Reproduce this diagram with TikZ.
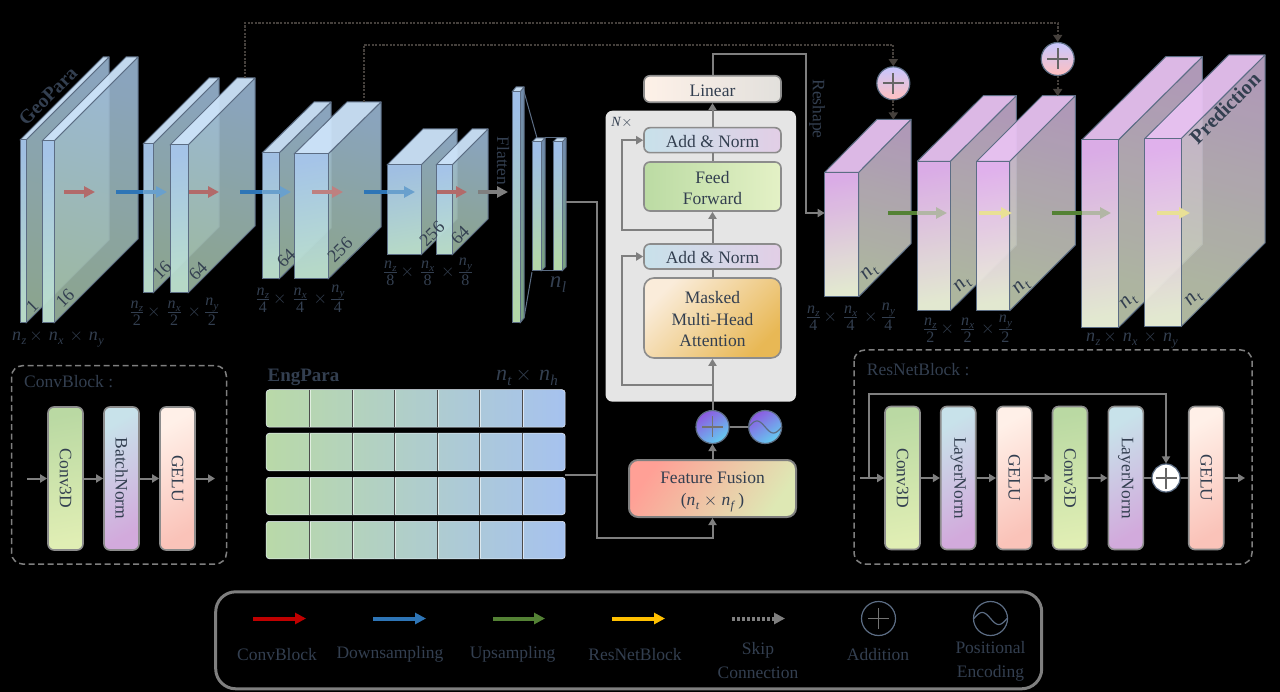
\documentclass[tikz,border=0pt]{standalone}
\usepackage{graphicx}
\usepackage{fontspec}
\setmainfont{Liberation Serif}
\usetikzlibrary{arrows.meta,calc}
\definecolor{textc}{HTML}{333F50}
\definecolor{connc}{HTML}{7F7F7F}
\definecolor{boxg}{HTML}{8C8C8C}
\definecolor{edgec}{HTML}{5C6D84}
\definecolor{skipc}{HTML}{45403C}
% cube colours
\definecolor{blkFT}{RGB}{166,198,234}\definecolor{blkFB}{RGB}{188,224,206}
\definecolor{blkST}{RGB}{158,187,216}\definecolor{blkSB}{RGB}{159,187,165}
\definecolor{blkTP}{RGB}{205,228,250}
\definecolor{fltFT}{RGB}{165,198,240}\definecolor{fltFB}{RGB}{185,222,175}
\definecolor{fltST}{RGB}{130,160,195}\definecolor{fltSB}{RGB}{140,185,150}
\definecolor{fltTP}{RGB}{205,228,250}
\definecolor{purFT}{RGB}{226,178,238}\definecolor{purFB}{RGB}{234,240,215}
\definecolor{purST}{RGB}{200,175,209}\definecolor{purSB}{RGB}{197,208,181}
\definecolor{purTP}{RGB}{232,194,242}
% box gradients
\definecolor{linL}{RGB}{254,241,232}\definecolor{linR}{RGB}{226,224,220}
\definecolor{anL}{RGB}{200,225,234}\definecolor{anR}{RGB}{226,206,230}
\definecolor{ffL}{RGB}{187,219,163}\definecolor{ffR}{RGB}{228,241,198}
\definecolor{maT}{RGB}{250,236,218}\definecolor{maB}{RGB}{232,184,85}
\definecolor{fuT}{RGB}{255,160,150}\definecolor{fuB}{RGB}{222,232,180}
\definecolor{poT}{RGB}{140,90,225}\definecolor{poB}{RGB}{100,205,240}
\definecolor{enL}{RGB}{185,217,168}\definecolor{enR}{RGB}{166,194,239}
\definecolor{cvT}{RGB}{186,217,163}\definecolor{cvB}{RGB}{224,238,180}
\definecolor{bnT}{RGB}{200,226,234}\definecolor{bnB}{RGB}{210,170,220}
\definecolor{geT}{RGB}{255,240,232}\definecolor{geB}{RGB}{250,195,185}
\tikzset{
  edgeline/.style={draw=edgec,line width=1pt,line join=round},
  box/.style={rounded corners=6pt,draw=boxg,line width=1.6pt,inner sep=0pt,text=textc,align=center,font=\fontsize{17.5}{21.5}\selectfont},
  slim/.style={box,minimum width=35pt,minimum height=143pt},
  cvbox/.style={slim,top color=cvT,bottom color=cvB,shading angle=10},
  bnbox/.style={slim,top color=bnT,bottom color=bnB,shading angle=30},
  gebox/.style={slim,top color=geT,bottom color=geB,shading angle=30},
  anbox/.style={box,minimum width=137pt,minimum height=25pt,left color=anL,right color=anR},
  conn/.style={draw=connc,line width=2pt},
  tip/.style={-{Triangle[length=7pt,width=8pt]}},
  skipline/.style={draw=skipc,line width=2pt,dash pattern=on 2.2pt off 1.4pt},
  skiptip/.style={-{Triangle[length=7pt,width=9pt]}},
  fatarrow/.style={line width=4pt,-{Triangle[length=11pt,width=11pt]}},
  fatbar/.style={line width=4pt},
  dashbox/.style={draw=connc,line width=1.5pt,dash pattern=on 6pt off 3.5pt,rounded corners=11pt},
  lab/.style={text=textc,inner sep=0pt,align=center,font=\fontsize{17.5}{24}\selectfont},
  sidelab/.style={text=textc,inner sep=0pt,rotate=45,font=\fontsize{18}{20}\selectfont},
  ntlab/.style={sidelab,font=\fontsize{21}{22}\selectfont},
  dimlab/.style={text=textc,inner sep=0pt,font=\fontsize{16}{18}\selectfont},
  addcirc/.style={circle,draw=edgec,line width=1.2pt,minimum size=#1,inner sep=0pt},
}
% italic n with a subscript, in the text face
\newcommand{\nn}[1]{\textit{n}\kern.02em\raisebox{-.22em}{\fontsize{.68em}{.7em}\selectfont\textit{#1}}}
\newcommand{\lowr}{\rule{0pt}{.85em}}
% x, ytop, w, h, dx, dy, colour prefix
\newcommand{\cuboid}[7]{%
  \shadedraw[edgeline,fill opacity=.88,top color=#7ST,bottom color=#7SB,shading angle=-15]
    (#1+#3,#2) -- (#1+#3+#5,#2-#6) -- (#1+#3+#5,#2+#4-#6) -- (#1+#3,#2+#4) -- cycle;
  \filldraw[edgeline,fill=#7TP,fill opacity=.95]
    (#1,#2) -- (#1+#5,#2-#6) -- (#1+#3+#5,#2-#6) -- (#1+#3,#2) -- cycle;
  \shadedraw[edgeline,fill opacity=.97,top color=#7FT,bottom color=#7FB,shading angle=10]
    (#1,#2) rectangle (#1+#3,#2+#4);
}
% x0, x1 (colour change), x2, y, solid colour, light colour
\newcommand{\twotone}[6]{%
  \draw[fatbar,draw=#5] (#1,#4) -- (#2,#4);
  \draw[fatarrow,draw=#6,fill=#6] (#2,#4) -- (#3,#4);
}
\newcommand{\plusin}[2]{%
  \draw[draw=#2,line width=1.8pt] (#1.center) ++(-10.5,0) -- ++(21,0);
  \draw[draw=#2,line width=1.8pt] (#1.center) ++(0,-10.5) -- ++(0,21);
}
\newcommand{\sinein}[1]{%
  \draw[draw=edgec,line width=1.2pt,shift={(#1.center)}] plot[domain=-1:1,samples=40,smooth] ({\x*16.5},{6*sin(\x*180)});
}
\newcommand{\ofrac}[2]{\frac{\mbox{\raisebox{1.5pt}{\nn{#1}}}}{\mbox{\rule{0pt}{.8em}#2}}}
\newcommand{\fracdims}[1]{$\ofrac{z}{#1}\,{\times}\,\,\ofrac{x}{#1}\,\,{\times}\,\ofrac{y}{#1}$}
\newcommand{\plaindims}{\nn{z}\,$\times$\,\,\nn{x}\,\,$\times$\,\,\nn{y}}
\begin{document}
\begin{tikzpicture}[x=1pt,y=-1pt]
\fill[black] (0,0) rectangle (1280,692);
\useasboundingbox (0,0) rectangle (1280,692);

% ---------- encoder ----------
\cuboid{20}{140}{6}{183}{83}{83}{blk}
\cuboid{42}{141}{12}{182}{84}{84}{blk}
\cuboid{143}{144}{10}{149}{66}{66}{blk}
\cuboid{170}{145}{18}{148}{67}{67}{blk}
\cuboid{262}{153}{17}{126}{52}{51}{blk}
\cuboid{294}{154}{34}{125}{53}{52}{blk}
\cuboid{387}{165}{34}{90}{36}{36}{blk}
\cuboid{436}{165}{16}{90}{36}{36}{blk}

\node[sidelab,font=\bfseries\fontsize{19.5}{22}\selectfont] (geo) at (48,96) {GeoPara};
\node[sidelab] (s1) at (32,306) {1};
\node[sidelab] (s2) at (65,298) {16};
\node[sidelab] (s3) at (162,270) {16};
\node[sidelab] (s4) at (198,271) {64};
\node[sidelab] (s5) at (286,258) {64};
\node[sidelab] (s6) at (340,250) {256};
\node[sidelab] (s7) at (432,234) {256};
\node[sidelab] (s8) at (460,235) {64};

\node[dimlab,font=\fontsize{18}{20}\selectfont] (d1) at (58,339) {\plaindims};
\node[dimlab] (d2) at (174.5,312) {\fracdims{2}};
\node[dimlab] (d3) at (300.5,299) {\fracdims{4}};
\node[dimlab] (d4) at (428,272) {\fracdims{8}};

% flatten
\draw[edgeline] (523,88) -- (537,138);
\draw[edgeline] (524,318) -- (532,272);
\draw[edgeline] (545,138) -- (566,138);
\draw[edgeline] (537,271) -- (556,271);
\cuboid{512}{92}{8}{231}{4}{5}{flt}
\cuboid{532}{142}{9}{129}{4}{4}{flt}
\cuboid{553}{142}{9}{129}{4}{4}{flt}
\node[lab,rotate=-90] (flat) at (503,161) {Flatten};
\node[text=textc,inner sep=0pt,font=\fontsize{23}{24}\selectfont] (nl) at (558,285) {\nn{l}};

% ---------- decoder ----------
\cuboid{824.7}{172.3}{34}{124.4}{52.3}{53}{pur}
\cuboid{917.3}{161.3}{33}{149.4}{66}{65.6}{pur}
\cuboid{976.7}{161.3}{33}{149.4}{65.6}{65.6}{pur}
\cuboid{1081.7}{140}{36.6}{187.7}{84}{83.3}{pur}
\cuboid{1144.7}{138.7}{36.3}{188}{84}{83.7}{pur}
\node[sidelab,font=\bfseries\fontsize{20.5}{22}\selectfont] (pred) at (1225,108) {Prediction};
\node[ntlab] (t1) at (870,273) {\nn{t}};
\node[ntlab] (t2) at (963,285) {\nn{t}};
\node[ntlab] (t3) at (1022,287) {\nn{t}};
\node[ntlab] (t4) at (1129,302) {\nn{t}};
\node[ntlab] (t5) at (1194,299) {\nn{t}};
\node[dimlab] (d5) at (851,317) {\fracdims{4}};
\node[dimlab] (d6) at (968,329) {\fracdims{2}};
\node[dimlab,font=\fontsize{18}{20}\selectfont] (d7) at (1132,340) {\plaindims};
\node[lab,rotate=-90] (resh) at (817,109) {Reshape};

% ---------- block-level arrows ----------
\definecolor{redm}{RGB}{178,106,106}
\definecolor{blus}{HTML}{2E75B6}\definecolor{blul}{RGB}{105,160,205}
\definecolor{grns}{HTML}{548235}\definecolor{grnl}{RGB}{178,182,165}
\definecolor{yelm}{RGB}{233,224,150}
\draw[fatarrow,draw=redm,fill=redm] (64,192) -- (95,192);
\twotone{116}{143}{167}{192}{blus}{blul}
\draw[fatarrow,draw=redm,fill=redm] (189,192) -- (219,192);
\twotone{240}{262}{291}{192}{blus}{blul}
\draw[fatarrow,draw=redm!85!white,fill=redm!85!white] (312,192) -- (343,192);
\twotone{364}{387}{415}{192}{blus}{blul}
\draw[fatarrow,draw=redm,fill=redm] (437,192) -- (467,192);
\draw[fatarrow,draw=connc,fill=connc] (478,192) -- (508,192);
\twotone{888}{917.3}{947}{213}{grns}{grnl}
\draw[fatarrow,draw=yelm,fill=yelm] (979,213) -- (1012,213);
\twotone{1052}{1081.7}{1111}{213}{grns}{grnl}
\draw[fatarrow,draw=yelm,fill=yelm] (1157,213) -- (1190,213);

% ---------- add circles and skips ----------
\node[addcirc=33pt,top color=blue!22!white,bottom color=red!25!white] (p1) at (893.3,83.3) {};
\node[addcirc=33pt,top color=blue!22!white,bottom color=red!25!white] (p2) at (1057.7,59) {};
\plusin{p1}{black!60}
\plusin{p2}{black!60}
\coordinate (sk1) at (245,78);
\coordinate (sk2) at (363.7,102);
\coordinate (r1top) at (893.3,119.5);
\coordinate (r2top) at (1057.7,96);
\coordinate (c1) at (245,23);
\coordinate (c2) at (363.7,45);
\draw[skipline,skiptip] (sk1) -- (c1) -| (p2.north);
\draw[skipline,skiptip] (sk2) -- (c2) -| (p1.north);
\draw[skipline,skiptip] (p1.south) -- (r1top);
\draw[skipline,skiptip] (p2.south) -- (r2top);

% ---------- transformer ----------
\node[fill=black!10,rounded corners=7pt,minimum width=190.5pt,minimum height=291pt,inner sep=0pt] (panel) at (700.8,256.2) {};
\node[text=textc,inner sep=0pt,font=\fontsize{14}{16}\selectfont] (nx) at (622,123) {\textit{N}$\times$};
\node[box,minimum width=137pt,minimum height=26.5pt,left color=linL,right color=linR] (linear) at (712.5,89) {\lowr Linear};
\node[anbox] (an1) at (712.5,140.2) {\lowr Add \& Norm};
\node[box,minimum width=137pt,minimum height=49pt,left color=ffL,right color=ffR] (feed) at (712.5,186.5) {\lowr Feed\\Forward};
\node[anbox] (an2) at (712.5,256.5) {\lowr Add \& Norm};
\node[box,minimum width=137pt,minimum height=80pt,top color=maT,bottom color=maB,shading angle=45,rounded corners=10pt] (masked) at (712.5,318) {\lowr Masked\\Multi-Head\\Attention};
\node[box,minimum width=167pt,minimum height=57pt,top color=fuT,bottom color=fuB,shading angle=55,draw=connc,line width=2pt,rounded corners=9pt] (fusion) at (712.5,488.5) {\rule{0pt}{1.05em}Feature Fusion\\[1pt](\nn{t} $\times$ \nn{f}\,)};
\node[addcirc=33pt,top color=poT,bottom color=poB,shading angle=35] (pos) at (712.5,427) {};
\node[addcirc=33pt,top color=poT,bottom color=poB,shading angle=35] (pe) at (765.2,427) {};
\plusin{pos}{black!55}
\sinein{pe}

\coordinate (lo1) at (712.5,230);
\coordinate (lo2) at (712.5,385);
\draw[conn,tip] (an1.north) -- (linear.south);
\draw[conn] (feed.north) -- (an1.south);
\draw[conn,tip] (an2.north) -- (feed.south);
\draw[conn] (masked.north) -- (an2.south);
\draw[conn,tip] (pos.north) -- (masked.south);
\draw[conn,tip] (fusion.north) -- (pos.south);
\draw[conn] (pos.east) -- (pe.west);
\draw[conn,tip] (lo1) -- (622.3,230) |- (an1.west);
\draw[conn,tip] (lo2) -- (622.3,385) |- (an2.west);

\coordinate (rs) at (806,54);
\coordinate (r1in) at (824.7,213);
\draw[conn,tip] (linear.north) |- (rs) |- (r1in);

% ---------- EngPara ----------
\node[text=textc,inner sep=0pt,font=\bfseries\fontsize{19}{22}\selectfont] (eng) at (303.5,377) {EngPara};
\node[text=textc,inner sep=0pt,font=\fontsize{22}{24}\selectfont] (nth) at (527,377) {\nn{t}\,$\times$\,\,\nn{h}};
\foreach \n/\yc in {1/408.5,2/452,3/496,4/540}{
  \node[rounded corners=3pt,draw=white!75!enR,line width=.5pt,minimum width=299pt,minimum height=37.5pt,inner sep=0pt,left color=enL,right color=enR] (row\n) at (415.7,\yc) {};
  \foreach \xd in {309.6,352,394,437,479.5,522}{
    \draw[black!70,line width=.7pt] (\xd,\yc-18.7) -- (\xd,\yc+18.7);
    \draw[white!80,line width=.5pt,opacity=.6] (\xd+.8,\yc-18.2) -- (\xd+.8,\yc+18.2);
  }
}
\coordinate (engout) at (565,475);
\coordinate (bar) at (566,202);
\coordinate (j1) at (597,202);
\coordinate (j2) at (597,538);
\draw[conn] (engout) -- (597,475);
\draw[conn,tip] (bar) -- (j1) -- (j2) -| (fusion.south);

% ---------- ConvBlock panel ----------
\draw[dashbox] (11.5,365.7) rectangle (226.5,564);
\node[lab,anchor=west] (cvlab) at (24,382) {ConvBlock :};
\node[cvbox] (cv) at (65.5,478.5) {\rotatebox{-90}{Conv3D}};
\node[bnbox] (bn) at (121.5,478.5) {\rotatebox{-90}{BatchNorm}};
\node[gebox] (ge) at (177.5,478.5) {\rotatebox{-90}{GELU}};
\coordinate (cin) at (27,478.5);
\coordinate (cout) at (215,478.5);
\draw[conn,tip] (cin) -- (cv.west);
\draw[conn,tip] (cv.east) -- (bn.west);
\draw[conn,tip] (bn.east) -- (ge.west);
\draw[conn,tip] (ge.east) -- (cout);

% ---------- ResNetBlock panel ----------
\draw[dashbox] (854,350) rectangle (1252,564);
\node[lab,anchor=west] (rnlab) at (866.7,370) {ResNetBlock :};
\node[cvbox] (rc1) at (902.5,478) {\rotatebox{-90}{Conv3D}};
\node[bnbox] (rl1) at (958.2,478) {\rotatebox{-90}{LayerNorm}};
\node[gebox] (rg1) at (1014.3,478) {\rotatebox{-90}{GELU}};
\node[cvbox] (rc2) at (1070,478) {\rotatebox{-90}{Conv3D}};
\node[bnbox] (rl2) at (1125.8,478) {\rotatebox{-90}{LayerNorm}};
\node[gebox] (rg2) at (1206.2,478) {\rotatebox{-90}{GELU}};
\node[addcirc=28pt,fill=white] (rp) at (1166,478) {};
\plusin{rp}{black!60}
\coordinate (rin) at (860,478);
\coordinate (rout) at (1245,478);
\coordinate (rby) at (868.5,478);
\coordinate (rtop) at (868.5,394);
\draw[conn,tip] (rin) -- (rc1.west);
\draw[conn,tip] (rc1.east) -- (rl1.west);
\draw[conn,tip] (rl1.east) -- (rg1.west);
\draw[conn,tip] (rg1.east) -- (rc2.west);
\draw[conn,tip] (rc2.east) -- (rl2.west);
\draw[conn] (rl2.east) -- (rp.west);
\draw[conn] (rp.east) -- (rg2.west);
\draw[conn,tip] (rg2.east) -- (rout);
\draw[conn,tip] (rby) -- (rtop) -| (rp.north);

% ---------- legend ----------
\node[draw=connc,line width=3pt,rounded corners=20pt,minimum width=826pt,minimum height=97pt,inner sep=0pt] (legend) at (628.7,640.3) {};
\definecolor{legr}{HTML}{C00000}\definecolor{legy}{HTML}{FFC000}
\draw[fatarrow,draw=legr,fill=legr] (253,618.5) -- (306,618.5);
\draw[fatarrow,draw=blus,fill=blus] (373,618.5) -- (426,618.5);
\draw[fatarrow,draw=grns,fill=grns] (493,618.5) -- (545,618.5);
\draw[fatarrow,draw=legy,fill=legy] (612,618.5) -- (665,618.5);
\draw[line width=4pt,draw=connc,dash pattern=on 3pt off 2pt,-{Triangle[length=11pt,width=11pt,fill=connc]}] (732,618.5) -- (785,618.5);
\node[addcirc=34pt] (lp) at (878.5,618.5) {};
\plusin{lp}{black!55}
\node[addcirc=34pt] (lpe) at (990.5,618.5) {};
\sinein{lpe}
\node[lab] (l1) at (277,654.5) {ConvBlock};
\node[lab] (l2) at (390,654.5) {Downsampling};
\node[lab] (l3) at (512.6,654.5) {Upsampling};
\node[lab] (l4) at (635,654.5) {ResNetBlock};
\node[lab] (l5) at (758,661) {Skip\\Connection};
\node[lab] (l6) at (878,654.5) {Addition};
\node[lab] (l7) at (990.5,661) {Positional\\Encoding};
\end{tikzpicture}
\end{document}
